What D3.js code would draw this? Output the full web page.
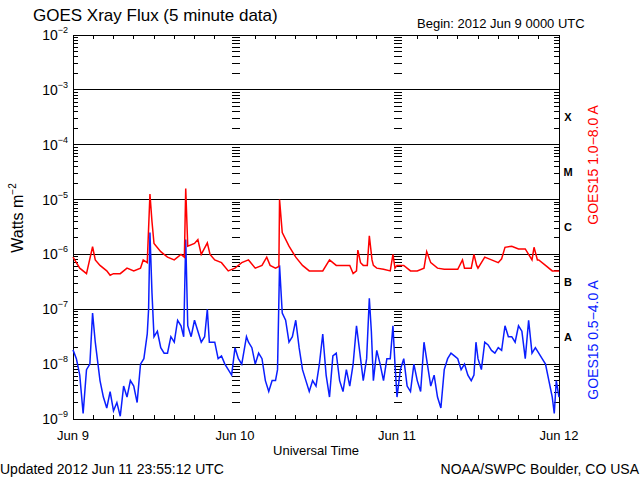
<!DOCTYPE html>
<html><head><meta charset="utf-8">
<script src="https://cdn.jsdelivr.net/npm/d3@7"></script>
<style>body{margin:0;background:#fff}text{font-family:"Liberation Sans",Arial,sans-serif}</style>
</head><body><svg id="c" width="640" height="480"></svg>
<script>
const dayLabels = ["Jun 9","Jun 10","Jun 11","Jun 12"];
const yDecades = [-9,-8,-7,-6,-5,-4,-3,-2];
const classLabels = ["A","B","C","M","X"];
// long channel (1.0-8.0 A): hours since Jun 9 00:00, log10 flux
const redHours = [0,1,2,2.9,3.3,4,5,5.5,6,7,8,9,10,10.4,11,11.4,11.7,12,13,14,15,16,16.5,16.7,17,18,18.5,19,19.9,20.3,21,22,23,24,25,26,27,28,28.7,29.2,30,30.5,30.6,31,32,33,34,35,36,37,38,39,40,41,41.5,42,42.2,42.6,43,43.6,43.9,44.3,44.5,45,46,47,47.4,47.7,48,49,50,51,52,52.4,53,54,55,56,57,57.7,58,59,59.4,59.8,60,61,62,63,63.5,64,65,66,67,68,68.3,68.8,69,70,71,72];
const redLog = [-6.05,-6.25,-6.35,-5.86,-6.1,-6.2,-6.3,-6.38,-6.35,-6.35,-6.25,-6.3,-6.25,-6.1,-6.15,-4.9,-5.4,-5.8,-5.95,-6.05,-6.1,-6.0,-6.05,-4.8,-5.85,-5.8,-5.73,-6.0,-5.79,-6.0,-6.1,-6.15,-6.3,-6.25,-6.15,-6.1,-6.25,-6.2,-6.05,-6.2,-6.25,-6.22,-5.0,-5.6,-5.85,-6.05,-6.2,-6.3,-6.3,-6.3,-6.1,-6.2,-6.2,-6.2,-6.35,-6.3,-5.92,-6.15,-6.2,-6.2,-5.66,-6.1,-6.2,-6.25,-6.27,-6.3,-6.0,-6.25,-6.2,-6.2,-6.3,-6.3,-6.25,-5.95,-6.15,-6.25,-6.27,-6.27,-6.27,-6.1,-6.25,-6.25,-6.0,-6.2,-6.25,-6.05,-6.1,-6.15,-6.08,-5.87,-5.85,-5.9,-5.9,-6.1,-5.87,-6.1,-6.1,-6.2,-6.3,-6.3];
// short channel (0.5-4.0 A)
const blueHours = [0,0.5,1,1.5,2,2.5,2.9,3.3,3.5,4,4.5,5,5.5,6,6.5,7,7.5,8,8.5,9,9.5,10,10.5,11,11.2,11.4,11.7,12,12.5,13,13.5,14,14.5,15,15.5,16,16.4,16.7,17,17.5,18,18.5,19,19.5,19.9,20.2,21,21.5,22,22.5,23,23.5,24,24.5,25,25.7,26,26.5,27,27.5,28,28.5,29,29.5,30,30.3,30.6,31,31.5,32,32.5,33,33.5,34,34.5,35,35.5,36,36.5,37,37.5,38,38.5,39,39.5,40,40.5,41,41.5,42,42.5,43,43.5,43.9,44.2,44.5,45,45.5,46,46.5,47,47.4,47.7,48,48.5,49,49.5,50,50.5,51,51.5,52,52.5,53,53.5,54,54.5,55,55.5,56,56.5,57,57.5,58,58.5,59,59.4,59.7,60,60.5,61,61.5,62,62.5,63,63.5,64,64.5,65,65.5,66,66.5,67,67.5,68,68.5,69,69.5,70,70.5,71,71.3,71.6,72];
const blueLog = [-7.74,-7.9,-8.2,-8.9,-8.1,-8.0,-7.07,-7.6,-7.8,-8.3,-8.6,-8.8,-8.5,-8.85,-8.7,-8.95,-8.4,-8.6,-8.3,-8.4,-8.7,-8.0,-7.9,-7.45,-7.0,-5.6,-6.7,-7.5,-7.4,-7.7,-7.8,-7.8,-7.5,-7.6,-7.2,-7.3,-7.5,-5.73,-7.3,-7.5,-7.2,-7.4,-7.6,-7.5,-7.0,-7.6,-7.6,-7.9,-7.85,-8.0,-8.1,-8.2,-7.7,-7.9,-8.0,-7.5,-7.6,-7.7,-8.0,-7.8,-7.9,-8.3,-8.5,-8.3,-8.3,-8.1,-6.2,-7.07,-7.2,-7.6,-7.5,-7.2,-7.7,-8.1,-8.3,-8.5,-8.3,-8.4,-8.0,-7.45,-8.2,-8.6,-7.85,-7.8,-8.3,-8.5,-8.1,-8.4,-8.0,-7.3,-7.8,-8.3,-7.9,-6.8,-7.4,-8.3,-7.75,-8.0,-8.3,-7.9,-7.9,-7.3,-8.0,-8.6,-8.1,-7.9,-8.4,-8.5,-8.0,-8.3,-8.5,-7.6,-8.0,-8.4,-8.2,-8.6,-8.8,-8.1,-7.9,-7.8,-7.85,-7.9,-8.1,-8.0,-8.2,-8.3,-8.2,-7.6,-7.9,-8.1,-7.6,-7.65,-7.75,-7.8,-7.7,-7.75,-7.3,-7.5,-7.5,-7.6,-7.3,-7.4,-7.9,-7.2,-7.8,-7.7,-7.8,-7.9,-8.0,-8.3,-8.6,-8.9,-8.3,-8.6];

const svg = d3.select("#c");
const L=73, R=559, T=35, B=419;
const x = d3.scaleLinear().domain([0,72]).range([L,R]);
const y = d3.scaleLinear().domain([-9,-2]).range([B,T]);
const g = svg.append("g").attr("stroke","#000").attr("stroke-width",1).attr("shape-rendering","crispEdges");
yDecades.slice(1,-1).forEach(d=>g.append("line").attr("x1",L).attr("x2",R).attr("y1",y(d)).attr("y2",y(d)));
g.append("rect").attr("x",L).attr("y",T).attr("width",R-L).attr("height",B-T).attr("fill","none");
const minors=[];
yDecades.slice(0,-1).forEach(d=>{for(let k=2;k<=9;k++)minors.push(d+Math.log10(k));});
[0,24,48,72].forEach(h=>{
  minors.forEach(m=>{
    const xx=x(h);
    if(h<72) g.append("line").attr("x1",xx).attr("x2",xx+5).attr("y1",y(m)).attr("y2",y(m));
    if(h>0) g.append("line").attr("x1",xx-(h<72?3:5)).attr("x2",xx).attr("y1",y(m)).attr("y2",y(m));
  });
});
d3.range(0,73,3).forEach(h=>{
  if(h%24===0)return;
  g.append("line").attr("x1",x(h)).attr("x2",x(h)).attr("y1",T).attr("y2",T+4);
  g.append("line").attr("x1",x(h)).attr("x2",x(h)).attr("y1",B).attr("y2",B-4);
});
const line=(hs,vs)=>d3.line().x(i=>x(hs[i])).y(i=>y(vs[i]))(d3.range(hs.length));
svg.append("path").attr("d",line(blueHours,blueLog)).attr("fill","none").attr("stroke","#0a1eff").attr("stroke-width",1.5);
svg.append("path").attr("d",line(redHours,redLog)).attr("fill","none").attr("stroke","#ff0000").attr("stroke-width",1.5);
yDecades.forEach(d=>{
  const t=svg.append("text").attr("x",L-5).attr("y",y(d)+5).attr("text-anchor","end").attr("font-size",14);
  t.append("tspan").text("10");
  t.append("tspan").attr("dy",-7).attr("font-size",9).text("−"+(-d));
});
classLabels.forEach((c,i)=>svg.append("text").attr("x",568).attr("y",y(-7.5+i)+4).attr("text-anchor","middle")
  .attr("font-family","Liberation Serif").attr("font-weight","bold").attr("font-size",11).text(c));
dayLabels.forEach((l,i)=>svg.append("text").attr("x",x(i*24)).attr("y",440).attr("text-anchor","middle").attr("font-size",13).text(l));
svg.append("text").attr("x",316).attr("y",455).attr("text-anchor","middle").attr("font-size",13).text("Universal Time");
svg.append("text").attr("x",33).attr("y",21).attr("font-size",17).text("GOES Xray Flux (5 minute data)");
svg.append("text").attr("x",417).attr("y",28).attr("font-size",13).text("Begin:  2012 Jun 9 0000 UTC");
svg.append("text").attr("x",0).attr("y",474).attr("font-size",14).text("Updated 2012 Jun 11 23:55:12 UTC");
svg.append("text").attr("x",639).attr("y",474).attr("text-anchor","end").attr("font-size",14).text("NOAA/SWPC Boulder, CO USA");
const wt=svg.append("text").attr("transform","translate(23,218) rotate(-90)").attr("text-anchor","middle").attr("font-size",16);
wt.append("tspan").text("Watts m");wt.append("tspan").attr("dy",-7).attr("font-size",10).text("−2");
svg.append("text").attr("transform","translate(598,165) rotate(-90)").attr("text-anchor","middle").attr("font-size",14).attr("fill","#ff0000").text("GOES15 1.0−8.0 A");
svg.append("text").attr("transform","translate(598,340) rotate(-90)").attr("text-anchor","middle").attr("font-size",14).attr("fill","#0a1eff").text("GOES15 0.5−4.0 A");
</script></body></html>
